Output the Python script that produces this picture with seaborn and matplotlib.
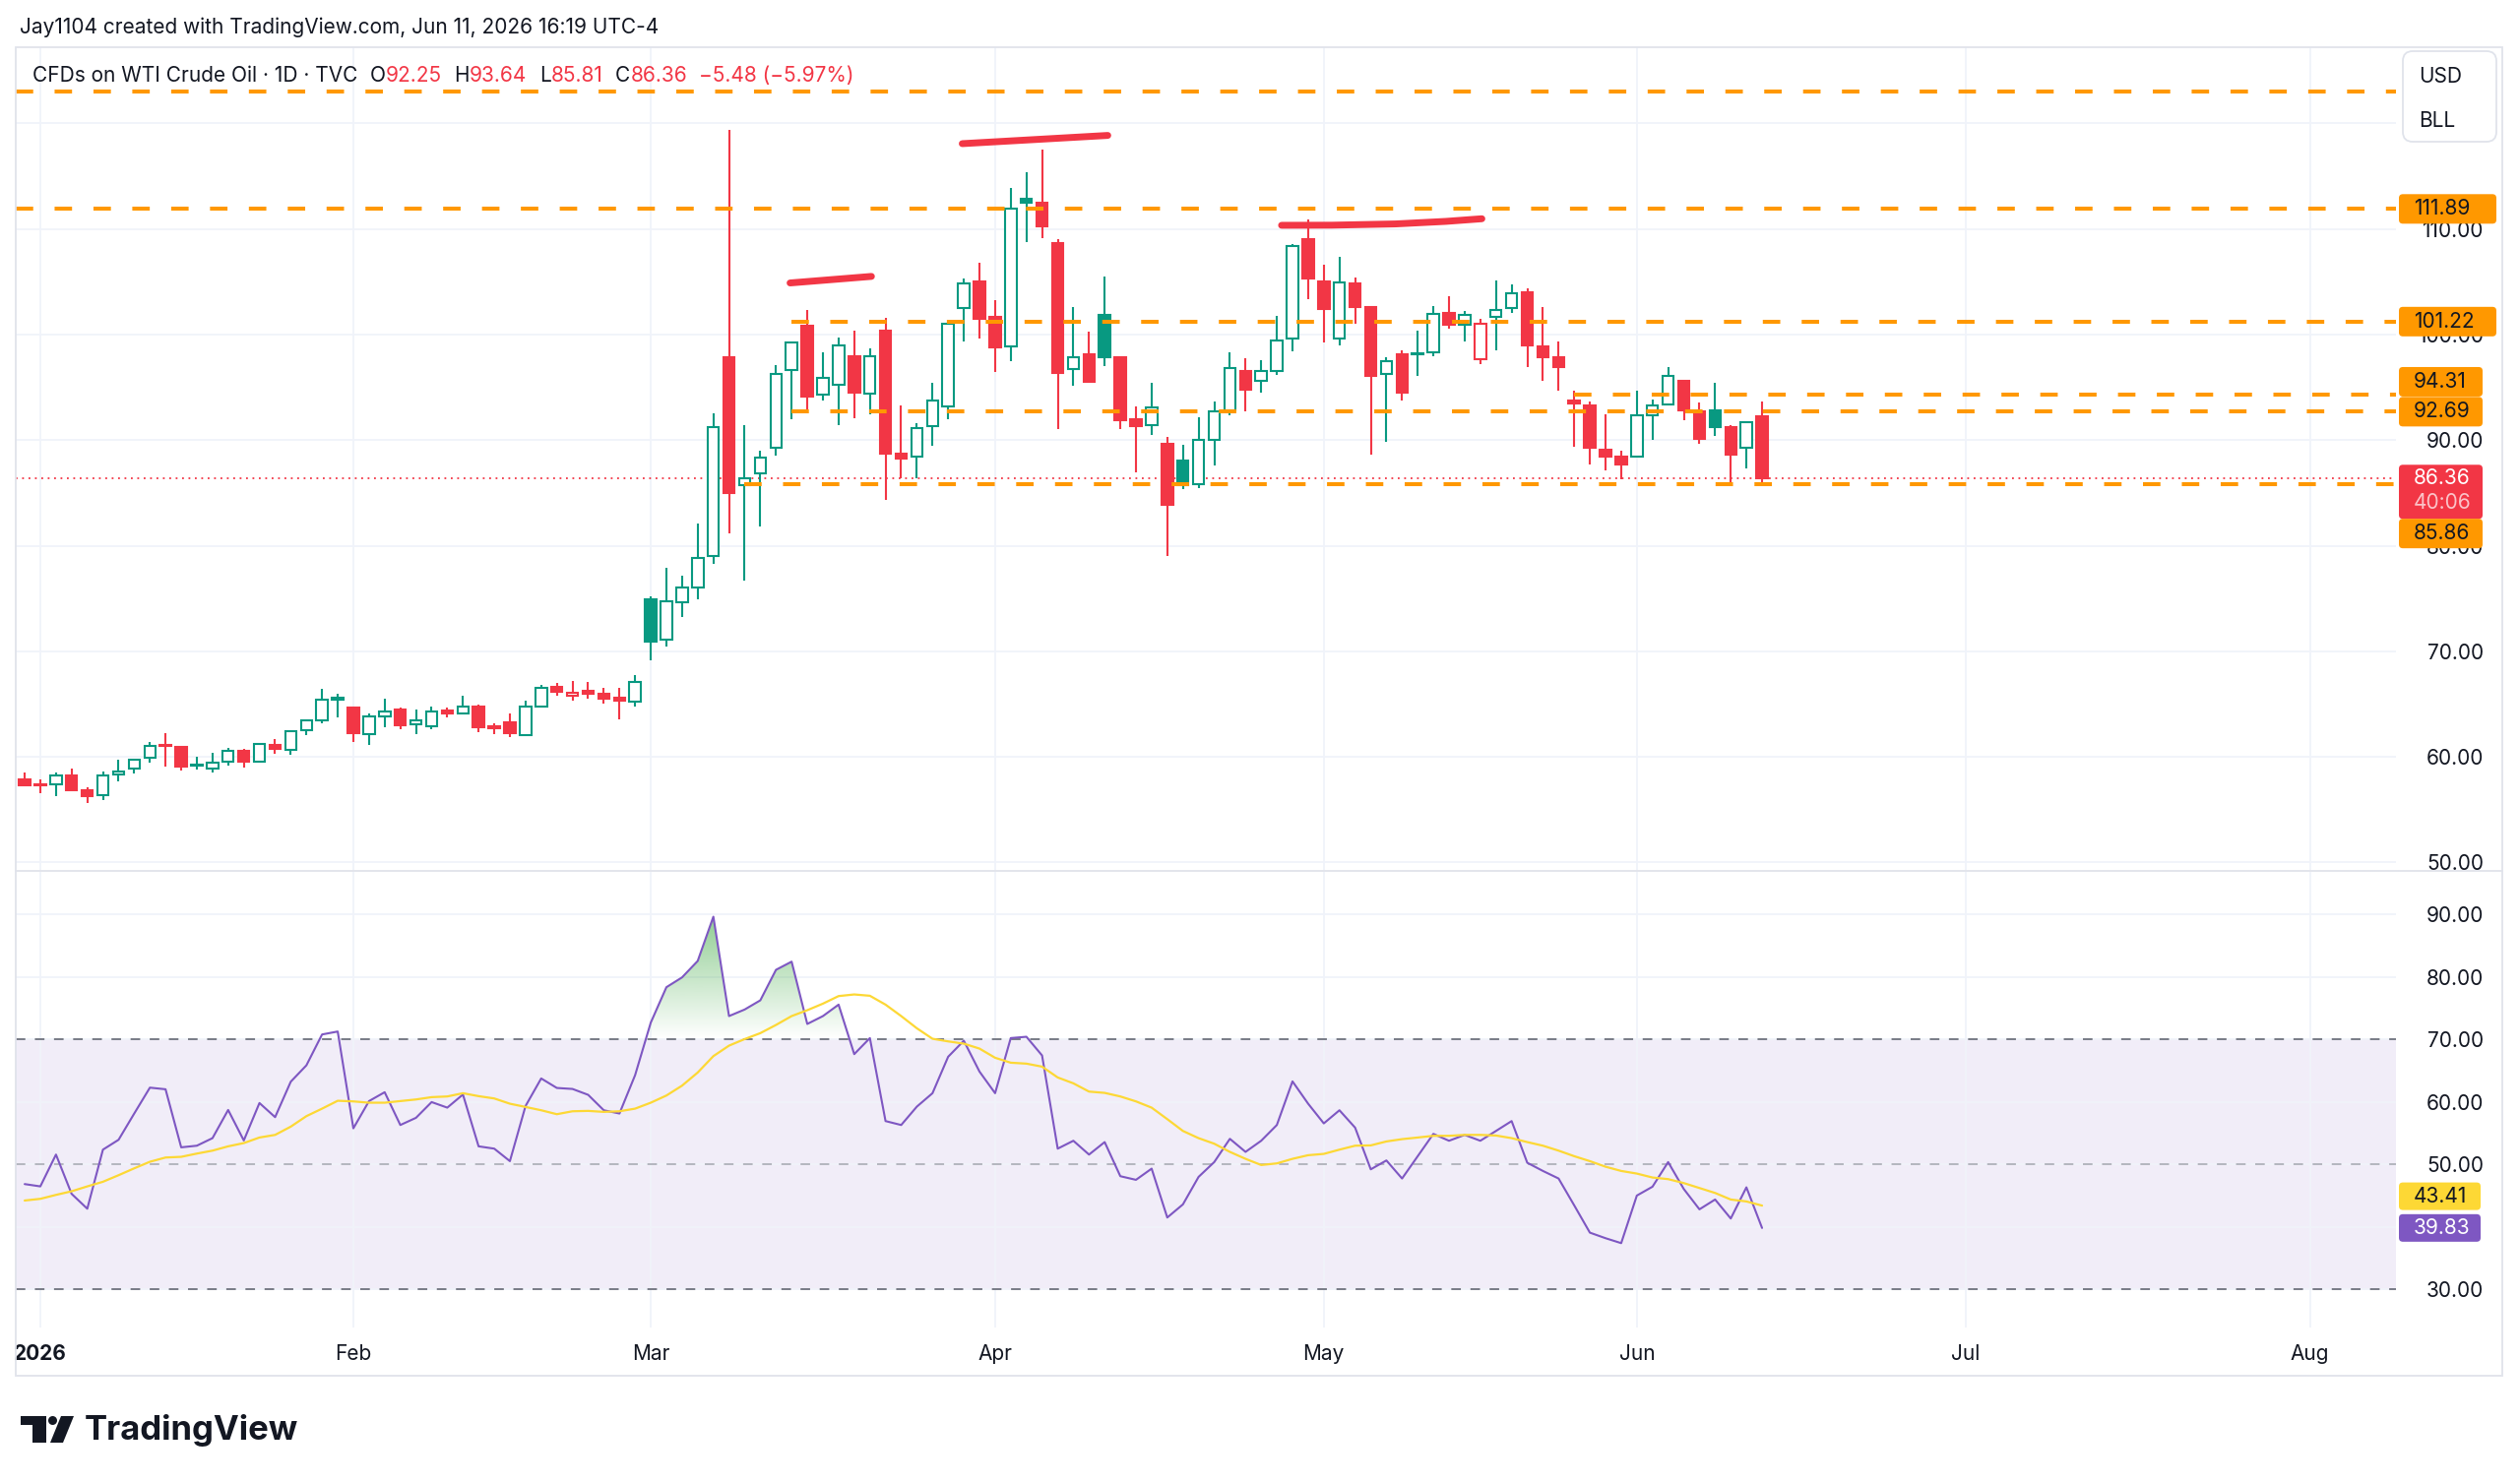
import numpy as np
import matplotlib
matplotlib.use("Agg")
import matplotlib.pyplot as plt
import seaborn as sns
from matplotlib.patches import FancyBboxPatch, Rectangle, Polygon, Circle, PathPatch
from matplotlib.path import Path
from matplotlib.lines import Line2D
from matplotlib.transforms import IdentityTransform

# daily bars, index 0 = Dec 31 2025 (trading days only)
opens = [57.89, 57.40, 57.42, 58.29, 56.89, 56.34, 58.35, 58.91, 59.91, 61.15,
         60.93, 59.19, 58.88, 59.53, 60.56, 59.57, 61.18, 60.68, 62.55, 63.45,
         65.65, 64.69, 62.17, 63.79, 64.47, 63.07, 62.92, 64.38, 64.10, 64.78,
         62.92, 63.26, 62.11, 64.78, 66.61, 65.81, 66.27, 66.02, 65.59, 65.28,
         74.89, 71.15, 74.67, 76.07, 79.04, 97.89, 85.72, 86.81, 89.29, 96.65,
         100.84, 94.32, 95.25, 97.98, 94.41, 100.40, 88.73, 88.45, 91.30, 93.23,
         102.48, 105.00, 101.65, 98.85, 112.83, 112.52, 108.70, 96.74, 98.14, 101.89,
         97.89, 91.99, 91.40, 89.66, 88.11, 85.81, 90.00, 92.80, 96.52, 95.59,
         96.58, 99.66, 109.00, 105.06, 99.63, 104.81, 102.58, 96.24, 98.14, 98.14,
         98.35, 102.08, 100.93, 97.67, 101.65, 102.48, 104.04, 98.88, 97.89, 93.79,
         93.32, 89.07, 88.45, 88.45, 92.39, 93.42, 95.65, 92.76, 92.86, 91.21,
         89.29, 92.25]
highs = [58.51, 57.89, 58.51, 58.88, 57.11, 58.66, 59.69, 59.84, 61.43, 62.27,
         61.00, 60.00, 60.43, 60.84, 60.75, 61.27, 61.68, 62.55, 63.54, 66.46,
         66.02, 64.75, 64.07, 65.47, 64.63, 64.53, 64.78, 64.63, 65.78, 65.00,
         63.17, 64.10, 65.37, 66.86, 66.96, 67.20, 67.14, 66.52, 66.58, 67.76,
         75.23, 77.94, 77.17, 82.12, 92.57, 119.41, 91.42, 88.97, 97.14, 99.30,
         102.33, 98.29, 99.69, 100.40, 98.66, 101.55, 93.32, 91.61, 95.40, 101.24,
         105.28, 106.77, 103.26, 113.91, 115.37, 117.55, 109.07, 102.58, 100.31, 105.50,
         97.95, 93.23, 95.40, 90.31, 89.53, 92.17, 93.63, 98.35, 97.76, 97.58,
         101.77, 108.54, 110.87, 106.58, 107.36, 105.43, 102.70, 97.89, 98.54, 100.34,
         102.70, 103.63, 102.27, 101.49, 105.09, 104.75, 104.35, 102.58, 99.32, 94.66,
         93.63, 92.48, 88.98, 94.72, 93.88, 96.89, 95.75, 93.57, 95.40, 91.46,
         91.80, 93.64]
lows = [57.20, 56.58, 56.27, 56.80, 55.68, 55.93, 57.64, 58.45, 59.44, 59.13,
        58.73, 58.82, 58.54, 59.22, 58.98, 59.50, 60.31, 60.16, 62.08, 63.23,
        63.70, 61.40, 61.15, 62.83, 62.64, 62.14, 62.58, 63.70, 64.00, 62.39,
        62.17, 61.86, 62.08, 64.72, 65.81, 65.34, 65.50, 65.09, 63.57, 64.81,
        69.16, 70.47, 73.27, 74.95, 78.26, 81.13, 76.70, 81.82, 88.57, 91.99,
        92.92, 93.79, 91.40, 92.08, 92.45, 84.32, 86.34, 86.34, 89.50, 92.02,
        99.38, 99.60, 96.43, 97.45, 108.79, 109.16, 91.00, 95.19, 95.40, 97.05,
        91.00, 86.96, 90.53, 78.98, 85.40, 85.50, 87.58, 92.33, 92.70, 94.50,
        96.21, 98.39, 103.32, 99.29, 99.01, 101.02, 88.66, 89.84, 93.79, 96.12,
        97.98, 100.56, 99.38, 97.20, 98.54, 102.08, 96.96, 95.65, 94.66, 89.38,
        87.73, 87.11, 86.27, 88.40, 90.06, 93.40, 91.86, 89.69, 90.37, 85.87,
        87.36, 85.81]
closes = [57.36, 57.30, 58.29, 56.86, 56.30, 58.29, 58.63, 59.69, 61.05, 61.00,
          59.07, 59.29, 59.47, 60.53, 59.57, 61.21, 60.75, 62.48, 63.42, 65.40,
          65.43, 62.24, 63.82, 64.32, 62.98, 63.42, 64.32, 64.07, 64.75, 62.80,
          62.76, 62.24, 64.81, 66.55, 66.18, 66.10, 66.02, 65.50, 65.34, 67.14,
          70.93, 74.74, 76.04, 78.82, 91.23, 85.01, 86.35, 88.35, 96.27, 99.22,
          94.10, 95.87, 98.98, 94.50, 97.92, 88.76, 88.26, 91.18, 93.73, 101.06,
          104.88, 101.46, 98.76, 111.89, 112.52, 110.25, 96.37, 97.83, 95.50, 97.89,
          91.93, 91.30, 93.11, 83.91, 85.71, 90.06, 92.76, 96.83, 94.81, 96.52,
          99.44, 108.39, 105.34, 102.39, 104.97, 102.58, 96.12, 97.52, 94.50, 98.20,
          101.96, 100.93, 101.86, 101.02, 102.36, 103.88, 98.98, 97.89, 96.89, 93.48,
          89.25, 88.45, 87.67, 92.33, 93.26, 96.12, 92.86, 90.12, 91.21, 88.60,
          91.74, 86.36]

rsi = [46.85, 46.48, 51.57, 45.28, 42.91, 52.36, 53.94, 58.14, 62.28, 62.02,
       52.73, 52.99, 54.20, 58.71, 53.83, 59.82, 57.56, 63.23, 65.85, 70.79,
       71.26, 55.77, 60.13, 61.55, 56.30, 57.45, 59.97, 59.08, 61.18, 52.89,
       52.52, 50.52, 59.34, 63.75, 62.23, 62.07, 61.13, 58.66, 58.14, 64.28,
       72.68, 78.35, 79.92, 82.55, 89.63, 73.73, 74.78, 76.25, 81.13, 82.44,
       72.47, 73.73, 75.56, 67.64, 70.21, 56.93, 56.30, 59.24, 61.39, 67.22,
       69.79, 64.86, 61.39, 70.21, 70.42, 67.43, 52.52, 53.78, 51.57, 53.57,
       48.11, 47.53, 49.32, 41.50, 43.60, 48.00, 50.37, 54.09, 52.00, 53.78,
       56.30, 63.28, 59.71, 56.56, 58.66, 55.88, 49.21, 50.63, 47.74, 51.31,
       54.88, 53.78, 54.72, 53.78, 55.35, 56.93, 50.26, 48.95, 47.74, 43.44,
       39.08, 38.19, 37.40, 45.01, 46.43, 50.37, 46.06, 42.81, 44.38, 41.34,
       46.33, 39.83]
rsi_ma = [44.22, 44.49, 45.12, 45.70, 46.48, 47.22, 48.27, 49.37, 50.42, 51.10,
          51.21, 51.73, 52.20, 52.89, 53.41, 54.30, 54.72, 56.04, 57.72, 58.92,
          60.18, 60.08, 59.87, 59.87, 60.13, 60.39, 60.76, 60.87, 61.39, 60.92,
          60.55, 59.71, 59.19, 58.66, 58.03, 58.50, 58.56, 58.40, 58.50, 58.92,
          59.87, 61.02, 62.60, 64.70, 67.32, 69.00, 70.05, 71.00, 72.31, 73.73,
          74.67, 75.72, 76.93, 77.19, 76.98, 75.56, 73.73, 71.78, 70.10, 69.68,
          69.32, 68.53, 67.06, 66.27, 66.12, 65.64, 63.91, 62.97, 61.65, 61.44,
          60.87, 60.08, 59.08, 57.24, 55.35, 54.20, 53.31, 52.00, 50.89, 49.90,
          50.16, 50.89, 51.47, 51.68, 52.36, 52.99, 53.04, 53.67, 54.04, 54.30,
          54.57, 54.57, 54.72, 54.72, 54.62, 54.20, 53.57, 52.99, 52.20, 51.31,
          50.52, 49.63, 48.95, 48.53, 47.90, 47.64, 47.01, 46.22, 45.43, 44.38,
          44.07, 43.41]

month_pos = [1, 21, 40, 62, 83, 103, 124, 146]
month_labels = ["2026", "Feb", "Mar", "Apr", "May", "Jun", "Jul", "Aug"]

price_ticks = [50, 60, 70, 80, 90, 100, 110, 120]
price_tick_labels = ["50.00", "60.00", "70.00", "80.00", "90.00", "100.00", "110.00", ""]
rsi_ticks = [30, 40, 50, 60, 70, 80, 90]
rsi_tick_labels = ["30.00", "", "50.00", "60.00", "70.00", "80.00", "90.00"]

level_prices = [123.0, 111.89, 101.22, 94.31, 92.69, 85.86]
level_start = [None, None, 49, 99, 49, 46]

# hand drawn red strokes (bar index, price)
stroke_x = [[48.9, 54.1], [59.9, 69.2], [80.3, 83.5, 87.6, 90.8, 93.1]]
stroke_y = [[104.88, 105.50], [118.07, 118.85], [110.34, 110.35, 110.47, 110.71, 110.96]]

sns.set_theme(style="white")
plt.rcParams["font.family"] = ["Inter", "DejaVu Sans"]

W, H = 2560, 1507
GREEN, RED, ORANGE = "#089981", "#F23645", "#FF9800"
PURPLE, YELLOW, TXT = "#7E57C2", "#FDD835", "#131722"
GRID, FRAME = "#F0F3FA", "#E0E3EB"
FS = 15

fig = plt.figure(figsize=(W / 100, H / 100), dpi=100)
fig.patch.set_facecolor("white")


def add_ax(x0, y0, x1, y1):
    return fig.add_axes([x0 / W, 1 - y1 / H, (x1 - x0) / W, (y1 - y0) / H])


ax = add_ax(16, 48, 2434, 884)
ax2 = add_ax(16, 886, 2434, 1349)
XLIM = (-0.57, 151.5)

# ---- candles (hollow style: colour vs previous close, fill when close < open)
o, h, l, c = (np.array(v, float) for v in (opens, highs, lows, closes))
x = np.arange(len(c))
prev = np.r_[o[0], c[:-1]]
col = np.where(c >= prev, GREEN, RED)
face = np.where(c > o, "white", col)
ax.vlines(x, l, h, colors=col, lw=1.5, zorder=2)
ax.bar(x, np.maximum(np.abs(c - o), 0.12), bottom=np.minimum(o, c), width=0.72,
       color=face, edgecolor=col, linewidth=1.5, zorder=3)

for yv, xs in zip(level_prices, level_start):
    x0 = XLIM[0] if xs is None else xs
    ax.plot([x0, XLIM[1]], [yv, yv], color=ORANGE, lw=2.9, dashes=(4.4, 5.4),
            dash_capstyle="butt", zorder=4)
ax.axhline(c[-1], color=RED, lw=1.3, ls=(0, (1, 2.6)), zorder=1.5)

for xs, ys in zip(stroke_x, stroke_y):
    ax.plot(xs, ys, color=RED, lw=5, solid_capstyle="round", zorder=5)

ax.set_xlim(*XLIM)
ax.set_ylim(49.3, 127.2)
ax.set_xticks(month_pos)
ax.set_yticks(price_ticks, labels=price_tick_labels)
ax.grid(True, color=GRID, lw=1.3)
ax.set_axisbelow(True)
ax.tick_params(axis="x", labelbottom=False, length=0)
ax.yaxis.tick_right()
ax.tick_params(axis="y", length=0, pad=64, labelsize=FS, labelcolor=TXT)
plt.setp(ax.get_yticklabels(), ha="right")

# ---- RSI pane
r = np.array(rsi, float)
ax2.axhspan(30, 70, color=PURPLE, alpha=0.1, lw=0, zorder=0)
fb = ax2.fill_between(x, r, 70, where=r > 70, interpolate=True,
                      facecolor="none", edgecolor="none")
clip = PathPatch(Path.make_compound_path(*fb.get_paths()), transform=ax2.transData,
                 facecolor="none", edgecolor="none")
ax2.add_patch(clip)
g = np.zeros((200, 2, 4))
g[..., 0], g[..., 1], g[..., 2] = 76 / 255, 175 / 255, 80 / 255
g[..., 3] = np.linspace(0, 0.95, 200)[:, None]
im = ax2.imshow(g, extent=(XLIM[0], XLIM[1], 70, 100), origin="lower",
                aspect="auto", zorder=1, interpolation="bilinear")
im.set_clip_path(clip)

ax2.axhline(70, color="#787B86", lw=1.4, dashes=(5, 5), zorder=2)
ax2.axhline(30, color="#787B86", lw=1.4, dashes=(5, 5), zorder=2)
ax2.axhline(50, color="#787B86", lw=1.4, dashes=(5, 5), alpha=0.5, zorder=2)
sns.lineplot(x=x, y=r, ax=ax2, color=PURPLE, lw=1.5, zorder=4)
sns.lineplot(x=x, y=rsi_ma, ax=ax2, color=YELLOW, lw=1.6, zorder=5)

ax2.set_xlim(*XLIM)
ax2.set_ylim(23.9, 96.8)
ax2.set_xticks(month_pos)
ax2.set_xticklabels(month_labels)
ax2.set_yticks(rsi_ticks, labels=rsi_tick_labels)
ax2.grid(True, color=GRID, lw=1.3)
ax2.set_axisbelow(True)
ax2.set_xlabel("")
ax2.set_ylabel("")
ax2.tick_params(axis="x", length=0, pad=12, labelsize=FS, labelcolor=TXT)
ax2.get_xticklabels()[0].set_fontweight("bold")
ax2.yaxis.tick_right()
ax2.tick_params(axis="y", length=0, pad=64, labelsize=FS, labelcolor=TXT)
plt.setp(ax2.get_yticklabels(), ha="right")

for a in (ax, ax2):
    a.set_facecolor("white")
    for sp in a.spines.values():
        sp.set_visible(False)

# ---- frame
ID = IdentityTransform()
fig.add_artist(Rectangle((16, H - 1398), 2526, 1350, transform=ID, fill=False,
                         ec=FRAME, lw=1.3, zorder=1))
fig.add_artist(Line2D([16, 2542], [H - 885, H - 885], transform=ID, color=FRAME, lw=1.3))


# ---- price tags on the scale
def tag(axis, val, text, fc, tc, w, h=30, dy=0):
    yb = axis.transData.transform((0, val))[1] + dy
    fig.add_artist(FancyBboxPatch((2437, yb - h / 2), w, h,
                                  boxstyle="round,pad=0,rounding_size=4",
                                  transform=ID, fc=fc, ec="none", zorder=5))
    fig.text(2452 / W, yb / H, text, color=tc, fontsize=FS, va="center", ha="left", zorder=6)
    return yb


tag(ax, 111.89, "111.89", ORANGE, TXT, 99)
tag(ax, 101.22, "101.22", ORANGE, TXT, 99)
tag(ax, 94.31, "94.31", ORANGE, TXT, 85, dy=13)
tag(ax, 92.69, "92.69", ORANGE, TXT, 85)
yl = ax.transData.transform((0, c[-1]))[1]
fig.add_artist(FancyBboxPatch((2437, yl - 41), 85, 55, boxstyle="round,pad=0,rounding_size=4",
                              transform=ID, fc=RED, ec="none", zorder=5))
fig.text(2452 / W, yl / H, "86.36", color="white", fontsize=FS, va="center", ha="left", zorder=6)
fig.text(2452 / W, (yl - 25) / H, "40:06", color="#FBC3C8", fontsize=FS, va="center", ha="left", zorder=6)
tag(ax, 85.86, "85.86", ORANGE, TXT, 85, dy=-50.5)
tag(ax2, 43.41, "43.41", YELLOW, TXT, 83, h=28, dy=9.5)
tag(ax2, 39.83, "39.83", PURPLE, "white", 83, h=28)

fig.add_artist(FancyBboxPatch((2441, H - 144), 95, 92, boxstyle="round,pad=0,rounding_size=10",
                              transform=ID, fc="white", ec=FRAME, lw=1.3, zorder=5))
fig.text(2457 / W, 1 - 78 / H, "USD", color=TXT, fontsize=FS, va="center", zorder=6)
fig.text(2457 / W, 1 - 123 / H, "BLL", color=TXT, fontsize=FS, va="center", zorder=6)


# ---- header / legends
def chain(x_px, y_px, parts):
    prev = ax.annotate(parts[0][0], xy=(x_px, H - y_px), xycoords="figure pixels",
                       color=parts[0][1], fontsize=FS, va="center", ha="left",
                       annotation_clip=False, zorder=6)
    for s, cc, gap in parts[1:]:
        prev = ax.annotate(s, xy=(1, 0.5), xycoords=prev, xytext=(gap, 0),
                           textcoords="offset points", color=cc, fontsize=FS,
                           va="center", ha="left", annotation_clip=False, zorder=6)


fig.text(20 / W, 1 - 28 / H, "Jay1104 created with TradingView.com, Jun 11, 2026 16:19 UTC-4",
         color=TXT, fontsize=FS, va="center")
chain(33, 77, [("CFDs on WTI Crude Oil · 1D · TVC", TXT),
               ("O", TXT, 9), ("92.25", RED, 0),
               ("H", TXT, 9), ("93.64", RED, 0),
               ("L", TXT, 9), ("85.81", RED, 0),
               ("C", TXT, 9), ("86.36", RED, 0),
               ("−5.48 (−5.97%)", RED, 9)])
chain(33, 913, [("RSI (14, close)", TXT), ("39.83", PURPLE, 9), ("43.41", YELLOW, 9)])

# ---- TradingView logo
fig.add_artist(Polygon([(21, H - 1439), (47, H - 1439), (47, H - 1466), (33, H - 1466),
                        (33, H - 1448), (21, H - 1448)], closed=True, transform=ID, fc=TXT, ec="none"))
fig.add_artist(Circle((53.5, H - 1443.5), 4.5, transform=ID, fc=TXT, ec="none"))
fig.add_artist(Polygon([(62, H - 1439), (75, H - 1439), (64, H - 1466), (51, H - 1466)],
                       closed=True, transform=ID, fc=TXT, ec="none"))
fig.text(86 / W, 1 - 1453 / H, "TradingView", color=TXT, fontsize=25, fontweight="bold", va="center")

fig.savefig("out.png", dpi=100, facecolor="white")
